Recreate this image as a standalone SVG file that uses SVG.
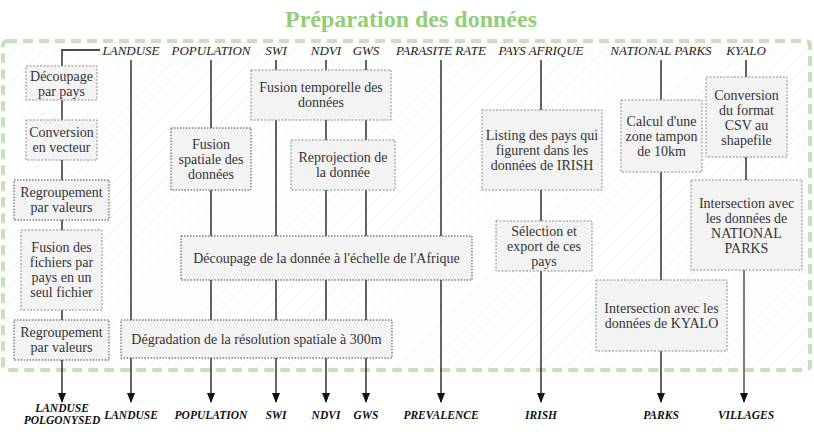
<svg xmlns="http://www.w3.org/2000/svg" width="814" height="432" viewBox="0 0 814 432">
<style>
.box{fill:#f3f3f3;stroke-width:1}
.dk{stroke:#444;stroke-dasharray:1.5 1.5}
.lt{stroke:#8a8a8a;stroke-dasharray:2 1.5}
.bt{font-family:"Liberation Serif",serif;font-size:14px;fill:#333;text-anchor:middle}
.top{font-family:"Liberation Serif",serif;font-size:13px;font-style:italic;fill:#222;text-anchor:middle}
.bot{font-family:"Liberation Serif",serif;font-size:11.5px;font-style:italic;font-weight:bold;fill:#111;text-anchor:middle}
.c{fill:none;stroke:#111;stroke-width:1.3}
.title{font-family:"Liberation Serif",serif;font-size:24px;font-weight:bold;fill:#93cd78;text-anchor:middle}
</style>
<defs>
<pattern id="hatch" width="11" height="11" patternUnits="userSpaceOnUse" patternTransform="rotate(45)">
<line x1="0" y1="0" x2="0" y2="11" stroke="#e5f2de" stroke-width="1.2"/>
</pattern>
<marker id="arrd" markerWidth="10" markerHeight="10" refX="9" refY="5" orient="auto" markerUnits="userSpaceOnUse" viewBox="0 0 10 10">
<path d="M0,1 L10,5 L0,9 Z" fill="#111"/>
</marker>
</defs>
<rect width="814" height="432" fill="#fff"/>
<text class="title" x="411" y="27">Préparation des données</text>
<g id="container">
<rect x="3" y="41" width="807" height="329" rx="4" fill="url(#hatch)" stroke="#c6e2b9" stroke-width="4" stroke-dasharray="10 6"/>
</g>
<g id="inputs">
<text class="top" x="131" y="55">LANDUSE</text>
<text class="top" x="211" y="55">POPULATION</text>
<text class="top" x="276" y="55">SWI</text>
<text class="top" x="326" y="55">NDVI</text>
<text class="top" x="366" y="55">GWS</text>
<text class="top" x="441" y="55">PARASITE RATE</text>
<text class="top" x="541" y="55">PAYS AFRIQUE</text>
<text class="top" x="661" y="55">NATIONAL PARKS</text>
<text class="top" x="746" y="55">KYALO</text>
</g>
<g id="connectors">
<path class="c" d="M100,50 H62 V66"/>
<path class="c" d="M62,100 V120 M62,160 V180 M62,220 V230 M62,310 V320"/>
<path class="c" d="M62,360 V402" marker-end="url(#arrd)"/>
<path class="c" d="M131,60 V320"/>
<path class="c" d="M131,358 V402" marker-end="url(#arrd)"/>
<path class="c" d="M211,60 V128 M211,190 V236 M211,280 V320"/>
<path class="c" d="M211,358 V402" marker-end="url(#arrd)"/>
<path class="c" d="M276,60 V70 M276,120 V236 M276,280 V320"/>
<path class="c" d="M276,358 V402" marker-end="url(#arrd)"/>
<path class="c" d="M326,60 V70 M326,120 V140 M326,190 V236 M326,280 V320"/>
<path class="c" d="M326,358 V402" marker-end="url(#arrd)"/>
<path class="c" d="M366,60 V70 M366,120 V140 M366,190 V236 M366,280 V320"/>
<path class="c" d="M366,358 V402" marker-end="url(#arrd)"/>
<path class="c" d="M441,60 V236"/>
<path class="c" d="M441,280 V402" marker-end="url(#arrd)"/>
<path class="c" d="M541,60 V110 M541,190 V221"/>
<path class="c" d="M541,271 V402" marker-end="url(#arrd)"/>
<path class="c" d="M661,60 V100 M661,172 V280"/>
<path class="c" d="M661,351 V402" marker-end="url(#arrd)"/>
<path class="c" d="M746,60 V77 M746,157 V180"/>
<path class="c" d="M744,270 V402" style="stroke:#7a7a7a;stroke-width:2" marker-end="url(#arrd)"/>
</g>
<g id="n-decoupage-pays">
<rect class="box lt" x="26" y="66" width="71" height="34"/>
<text class="bt"><tspan x="61.5" y="80.5">Découpage</tspan><tspan x="61.5" y="95.5">par pays</tspan></text>
</g>
<g id="n-conversion-vecteur">
<rect class="box lt" x="26" y="120" width="71" height="40"/>
<text class="bt"><tspan x="61.5" y="137">Conversion</tspan><tspan x="61.5" y="152">en vecteur</tspan></text>
</g>
<g id="n-regroupement-1">
<rect class="box dk" x="14" y="180" width="95" height="40"/>
<text class="bt"><tspan x="61.5" y="197">Regroupement</tspan><tspan x="61.5" y="212">par valeurs</tspan></text>
</g>
<g id="n-fusion-fichiers">
<rect class="box lt" x="21" y="230" width="81" height="80"/>
<text class="bt"><tspan x="61.5" y="252">Fusion des</tspan><tspan x="61.5" y="267">fichiers par</tspan><tspan x="61.5" y="282">pays en un</tspan><tspan x="61.5" y="297">seul fichier</tspan></text>
</g>
<g id="n-regroupement-2">
<rect class="box dk" x="14" y="320" width="95" height="40"/>
<text class="bt"><tspan x="61.5" y="337">Regroupement</tspan><tspan x="61.5" y="352">par valeurs</tspan></text>
</g>
<g id="n-fusion-spatiale">
<rect class="box dk" x="171" y="128" width="80" height="62"/>
<text class="bt"><tspan x="211" y="148.5">Fusion</tspan><tspan x="211" y="163.5">spatiale des</tspan><tspan x="211" y="178.5">données</tspan></text>
</g>
<g id="n-fusion-temporelle">
<rect class="box lt" x="251" y="70" width="140" height="50"/>
<text class="bt"><tspan x="321" y="92">Fusion temporelle des</tspan><tspan x="321" y="107">données</tspan></text>
</g>
<g id="n-reprojection">
<rect class="box lt" x="291" y="140" width="104" height="50"/>
<text class="bt"><tspan x="343" y="162">Reprojection de</tspan><tspan x="343" y="177">la donnée</tspan></text>
</g>
<g id="n-decoupage-afrique">
<rect class="box dk" x="181" y="236" width="291" height="44"/>
<text class="bt" x="326.5" y="262.5">Découpage de la donnée à l'échelle de l'Afrique</text>
</g>
<g id="n-degradation">
<rect class="box dk" x="121" y="320" width="271" height="38"/>
<text class="bt" x="256.5" y="343.5">Dégradation de la résolution spatiale à 300m</text>
</g>
<g id="n-listing">
<rect class="box lt" x="482" y="110" width="120" height="80"/>
<text class="bt"><tspan x="542" y="139.5">Listing des pays qui</tspan><tspan x="542" y="154.5">figurent dans les</tspan><tspan x="542" y="169.5">données de IRISH</tspan></text>
</g>
<g id="n-selection">
<rect class="box lt" x="496" y="221" width="96" height="50"/>
<text class="bt"><tspan x="544" y="235.5">Sélection et</tspan><tspan x="544" y="250.5">export de ces</tspan><tspan x="544" y="265.5">pays</tspan></text>
</g>
<g id="n-calcul-tampon">
<rect class="box lt" x="621" y="100" width="81" height="72"/>
<text class="bt"><tspan x="661.5" y="125.5">Calcul d'une</tspan><tspan x="661.5" y="140.5">zone tampon</tspan><tspan x="661.5" y="155.5">de 10km</tspan></text>
</g>
<g id="n-conversion-csv">
<rect class="box lt" x="706" y="77" width="81" height="80"/>
<text class="bt"><tspan x="746.5" y="99.5">Conversion</tspan><tspan x="746.5" y="114.5">du format</tspan><tspan x="746.5" y="129.5">CSV au</tspan><tspan x="746.5" y="144.5">shapefile</tspan></text>
</g>
<g id="n-intersection-np">
<rect class="box lt" x="691" y="180" width="111" height="90"/>
<text class="bt"><tspan x="746.5" y="207.5">Intersection avec</tspan><tspan x="746.5" y="222.5">les données de</tspan><tspan x="746.5" y="237.5">NATIONAL</tspan><tspan x="746.5" y="252.5">PARKS</tspan></text>
</g>
<g id="n-intersection-kyalo">
<rect class="box lt" x="596" y="280" width="131" height="71"/>
<text class="bt"><tspan x="661.5" y="312.5">Intersection avec les</tspan><tspan x="661.5" y="327.5">données de KYALO</tspan></text>
</g>
<g id="outputs">
<text class="bot"><tspan x="62" y="412">LANDUSE</tspan><tspan x="62" y="424">POLGONYSED</tspan></text>
<text class="bot" x="131" y="419">LANDUSE</text>
<text class="bot" x="211" y="419">POPULATION</text>
<text class="bot" x="276" y="419">SWI</text>
<text class="bot" x="326" y="419">NDVI</text>
<text class="bot" x="366" y="419">GWS</text>
<text class="bot" x="441" y="419">PREVALENCE</text>
<text class="bot" x="541" y="419">IRISH</text>
<text class="bot" x="661" y="419">PARKS</text>
<text class="bot" x="746" y="419">VILLAGES</text>
</g>
</svg>
